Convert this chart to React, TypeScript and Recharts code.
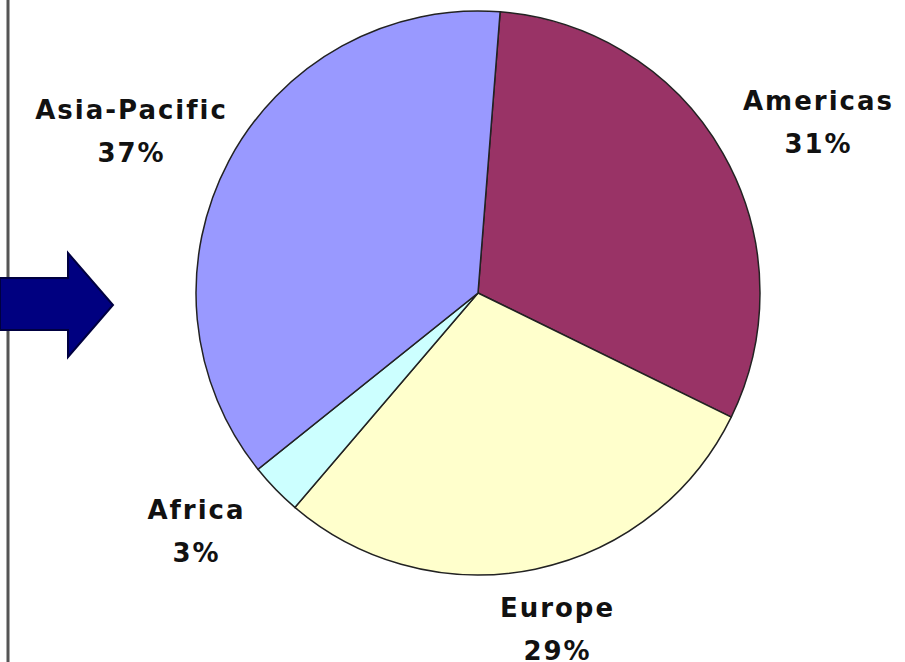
import { Cell, Pie, PieChart } from 'recharts';

const regions = ['Americas', 'Europe', 'Africa', 'Asia-Pacific'];
const shares = [31, 29, 3, 37];
const colors = ['#993366', '#FFFFCC', '#CCFFFF', '#9999FF'];

const data = regions.map((name, i) => ({ name, value: shares[i] }));

const RADIAN = Math.PI / 180;

function renderLabel(props: any) {
  const { cx, cy, midAngle, name, value } = props;
  const x = cx + 392 * Math.cos(-midAngle * RADIAN);
  const y = cy + 344 * Math.sin(-midAngle * RADIAN);
  const textProps = {
    textAnchor: 'middle' as const,
    dominantBaseline: 'central' as const,
    fill: '#111',
    fontFamily: 'DejaVu Sans, Verdana, sans-serif',
    fontWeight: 'bold',
    fontSize: 26,
    letterSpacing: 2,
  };
  return (
    <g>
      <text x={x} y={y - 22} {...textProps}>
        {name}
      </text>
      <text x={x} y={y + 21} {...textProps}>
        {`${value}%`}
      </text>
    </g>
  );
}

export default function App() {
  return (
    <div style={{ position: 'relative', width: 905, height: 662, background: '#fff' }}>
      <style>{`body{margin:0}`}</style>
      <svg width={905} height={662} style={{ position: 'absolute', left: 0, top: 0 }}>
        <line x1={8} y1={0} x2={8} y2={662} stroke="#555" strokeWidth={3} />
        <polygon
          points="0,278 68,278 68,253 113,305 68,357 68,330 0,330"
          fill="#000080"
          stroke="#000040"
          strokeWidth={2}
        />
      </svg>
      <div style={{ position: 'absolute', left: 0, top: 0 }}>
        <PieChart width={905} height={662} margin={{ top: 0, right: 0, bottom: 0, left: 0 }}>
          <Pie
            data={data}
            dataKey="value"
            nameKey="name"
            cx={478}
            cy={293}
            outerRadius={282}
            startAngle={85.5}
            endAngle={-274.5}
            stroke="#222"
            strokeWidth={1.5}
            label={renderLabel}
            labelLine={false}
            isAnimationActive={false}
          >
            {data.map((d, i) => (
              <Cell key={d.name} fill={colors[i]} />
            ))}
          </Pie>
        </PieChart>
      </div>
    </div>
  );
}
